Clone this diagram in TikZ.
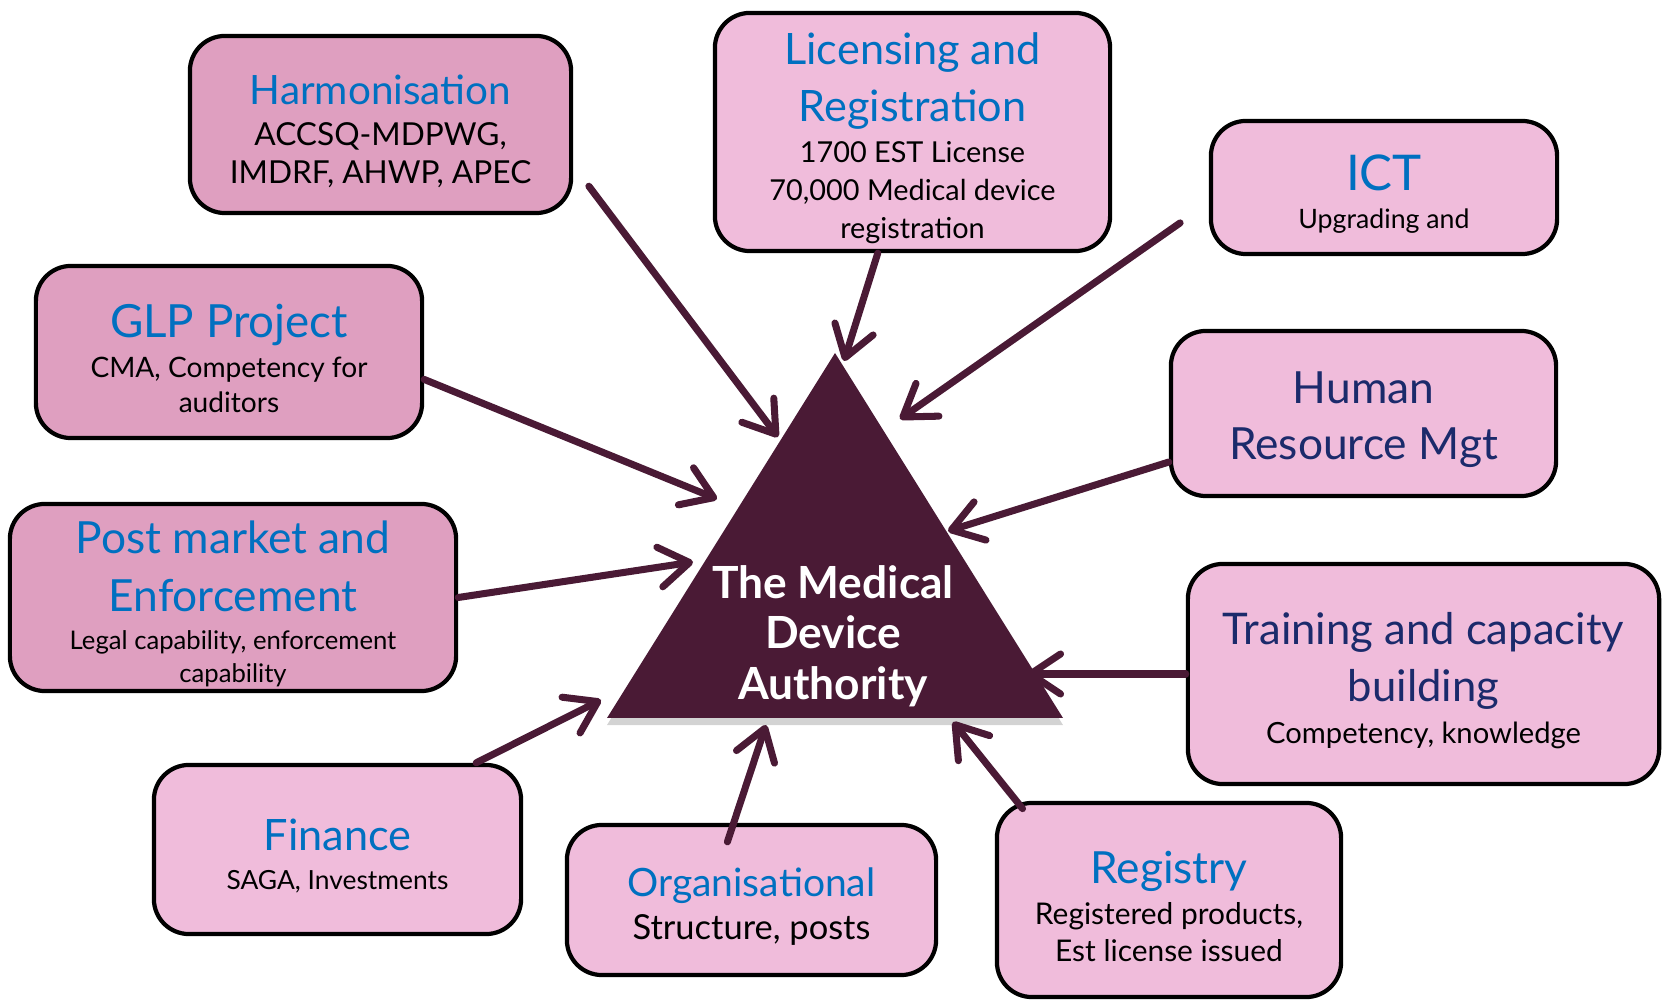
\documentclass[tikz,border=0pt]{standalone}
\usepackage{fontspec}
\setmainfont{Lato}
\usetikzlibrary{arrows.meta,shadows}

\definecolor{pinkdark}{HTML}{DF9FC0}
\definecolor{pinklight}{HTML}{F0BCDB}
\definecolor{headblue}{HTML}{0070C0}
\definecolor{headnavy}{HTML}{1B2A6B}
\definecolor{plum}{HTML}{4A1A35}

% size and skip above one line
\newcommand{\sz}[2]{\color{black}\fontsize{#1}{#2}\selectfont}
\newcommand{\hb}[2]{\color{headblue}\fontsize{#1}{#2}\selectfont}
\newcommand{\hn}[2]{\color{headnavy}\fontsize{#1}{#2}\selectfont}

\tikzset{
  box/.style={draw=black, line width=1.2pt, rounded corners=0.35cm, align=flush center,
    inner sep=0pt, execute at end node={\par\vspace*{-0.13cm}}},
  boxdark/.style={box, fill=pinkdark},
  boxlight/.style={box, fill=pinklight},
  feed/.style={draw=plum, line width=2pt, line cap=round,
    -{Straight Barb[length=0.3cm, width=0.4cm, round]}},
}

\begin{document}
\begin{tikzpicture}[x=0.01cm, y=-0.01cm]
  \useasboundingbox (0,0) rectangle (1664,1001);

  % the authority
  \fill[plum, drop shadow={shadow xshift=0pt, shadow yshift=-2pt, opacity=0.35}]
    (835,353) -- (607,718) -- (1063,718) -- cycle;
  \node[align=center, text=white, font=\bfseries\fontsize{12.6}{14.4}\selectfont] (mda) at (833,636)
    {The Medical\\Device\\Authority};

  \coordinate (tH) at (778,437);
  \coordinate (tL) at (844,361);
  \coordinate (tI) at (900,419);
  \coordinate (tG) at (717,499);
  \coordinate (tR) at (948,531);
  \coordinate (tP) at (693,562);
  \coordinate (tT) at (1027,674);
  \coordinate (tF) at (601,700);
  \coordinate (tO) at (766,725);
  \coordinate (tY) at (953,722);

  % boxes
  \node[boxdark, text width=3.81cm, minimum height=1.77cm] (hrm) at (380.5,124.5)
    {\hb{11.5}{14}Harmonisation\par \sz{9}{11.8}ACCSQ-MDPWG,\par \sz{9}{10.6}IMDRF, AHWP, APEC\par};
  \node[boxlight, text width=3.95cm, minimum height=2.38cm] (lic) at (912.5,132)
    {\hb{12.3}{16}Licensing and\par \hb{12.3}{16}Registration\par \sz{8.2}{11.8}1700 EST License\par
     \sz{8.2}{10.8}70,000 Medical device\par \sz{8.2}{10.8}registration\par};
  \node[boxlight, text width=3.46cm, minimum height=1.33cm] (ict) at (1384,187.5)
    {\hb{14}{17}ICT\par \sz{7.6}{10.9}Upgrading and\par};
  \node[boxdark, text width=3.86cm, minimum height=1.72cm] (glp) at (229,352)
    {\hb{13}{16}GLP Project\par \sz{8}{11.5}CMA, Competency for\par \sz{8}{10}auditors\par};
  \node[boxlight, text width=3.85cm, minimum height=1.65cm] (hr) at (1363.5,413.5)
    {\hn{12.6}{16}Human\par \hn{12.6}{16}Resource Mgt\par};
  \node[boxdark, text width=4.46cm, minimum height=1.87cm] (pm) at (233,597.5)
    {\hb{12.6}{16}Post market and\par \hb{12.6}{16.3}Enforcement\par
     \sz{7.3}{10.9}Legal capability, enforcement\par \sz{7.3}{9.4}capability\par};
  \node[boxlight, text width=4.71cm, minimum height=2.20cm] (trn) at (1423.5,674)
    {\hn{12.4}{16}Training and capacity\par \hn{12.4}{16.3}building\par \sz{8.3}{11.8}Competency, knowledge\par};
  \node[boxlight, text width=3.67cm, minimum height=1.69cm] (fin) at (337.5,849.5)
    {\hb{12.3}{15}Finance\par \sz{7.5}{10.9}SAGA, Investments\par};
  \node[boxlight, text width=3.69cm, minimum height=1.50cm] (org) at (751.5,900)
    {\hb{11.1}{14}Organisational\par \sz{9.8}{12.4}Structure, posts\par};
  \node[boxlight, text width=3.44cm, minimum height=1.94cm] (reg) at (1169,900)
    {\hb{12.6}{15}Registry\par \sz{8.5}{11.8}Registered products,\par \sz{8.5}{10.6}Est license issued\par};

  % arrows into the triangle
  \draw[feed, shorten <=0.26cm] (hrm.-12) -- (tH);
  \draw[feed] (lic.-106) -- (tL);
  \draw[feed, shorten <=0.35cm] (ict.-175.6) -- (tI);
  \draw[feed] (glp.-8) -- (tG);
  \draw[feed] (hr.-166) -- (tR);
  \draw[feed] (pm.east) -- (tP);
  \draw[feed] (trn.west) -- (tT);
  \draw[feed] (fin.32) -- (tF);
  \draw[feed, shorten <=-0.2cm] (org.103) -- (tO);
  \draw[feed, shorten <=-0.1cm] (reg.147) -- (tY);
\end{tikzpicture}
\end{document}
